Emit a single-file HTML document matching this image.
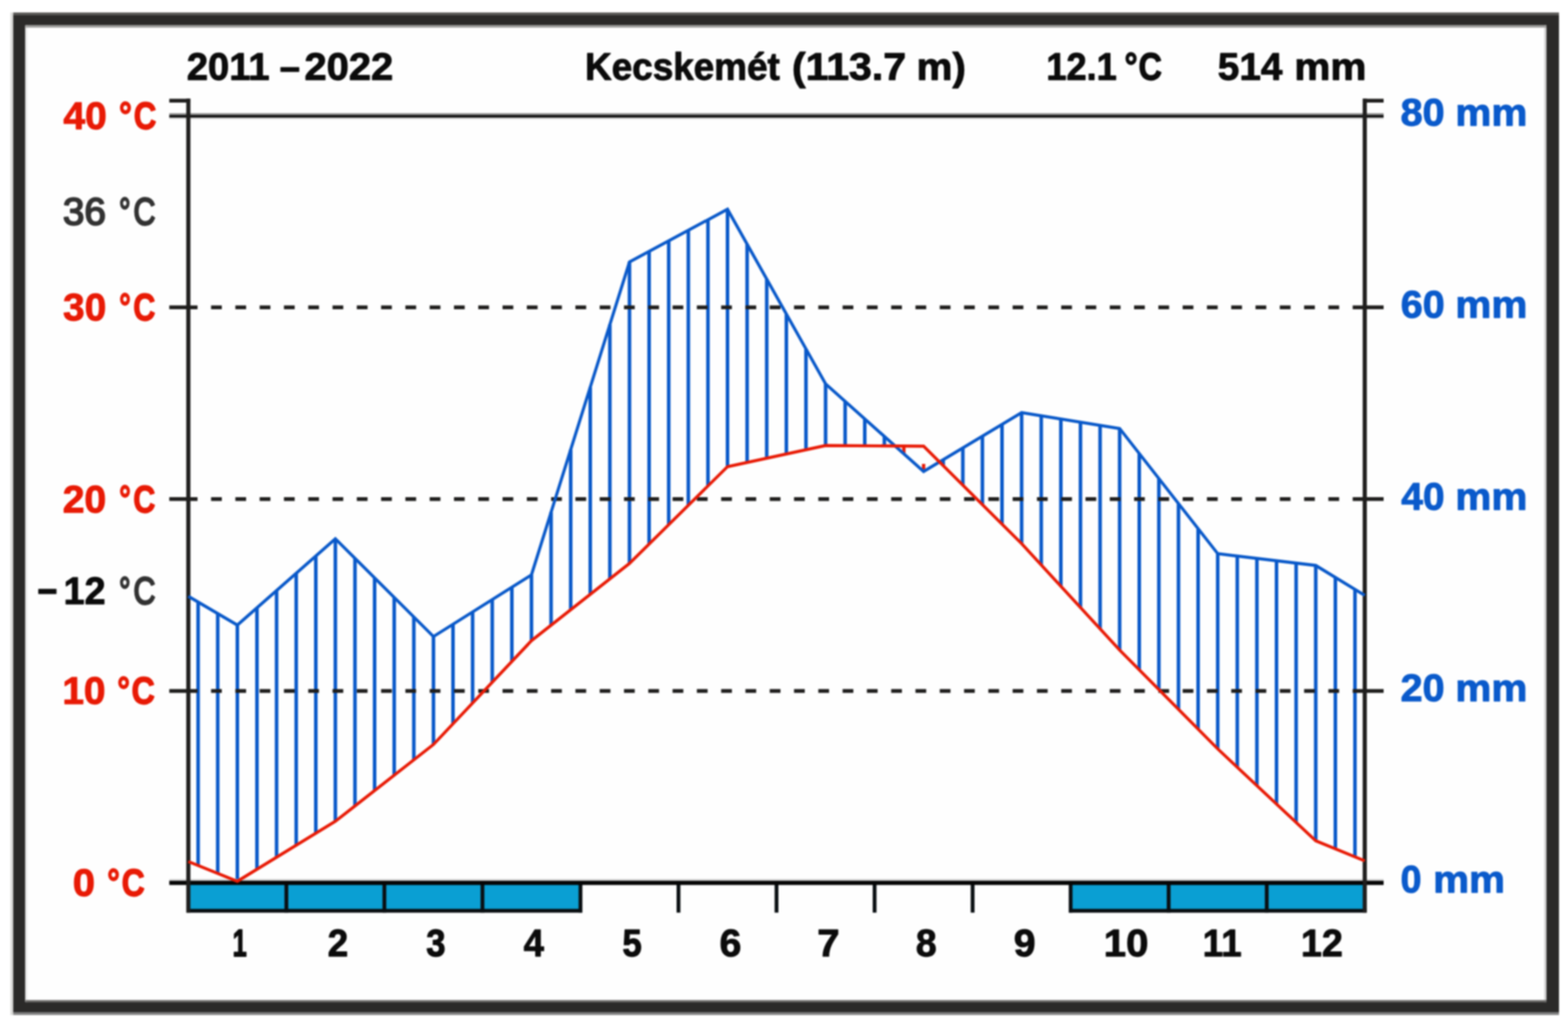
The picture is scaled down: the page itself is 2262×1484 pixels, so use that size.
<!DOCTYPE html>
<html lang="hu">
<head>
<meta charset="utf-8">
<title>Kecskemét (113.7 m) 2011–2022</title>
<style>
html,body{margin:0;padding:0;background:#fff;}
body{width:2262px;height:1484px;overflow:hidden;}
svg{display:block;filter:blur(0.8px);font-family:"Liberation Sans",Arial,sans-serif;font-weight:bold;}
text{white-space:pre;}
</style>
</head>
<body>
<svg width="2262" height="1484" viewBox="0 0 2262 1484">
<rect x="0" y="0" width="2262" height="1484" fill="#ffffff"/>
<g id="frame">
<rect x="15.1" y="18" width="4.2" height="1445.8" fill="#dbdbd9"/>
<rect x="19.1" y="18" width="2229.9" height="5" fill="#5a5957"/>
<rect x="19.1" y="1459" width="2229.9" height="4.8" fill="#828282"/>
<path fill-rule="evenodd" fill="#2b2a29" d="M19.1 22H2249V1459.8H19.1ZM36.7 36.7V1445.1H2231V36.7Z"/>
<rect x="36.7" y="36.7" width="2194.3" height="1408.4" fill="#fefefe"/>
<rect x="36.7" y="36.7" width="3.1" height="1408.4" fill="#efefef"/>
<rect x="2227.8" y="36.7" width="3.2" height="1408.4" fill="#cecece"/>
<rect x="36.7" y="36.7" width="2194.3" height="3.1" fill="#9b9b99"/>
<rect x="36.7" y="1442.2" width="2194.3" height="2.9" fill="#706f6d"/>
</g>
<g stroke="#0858c9" stroke-width="5.1" fill="none">
<line x1="285.8" y1="868.3" x2="285.8" y2="1248.2"/>
<line x1="314.1" y1="884.9" x2="314.1" y2="1259.6"/>
<line x1="342.4" y1="901.5" x2="342.4" y2="1271.0"/>
<line x1="370.7" y1="876.6" x2="370.7" y2="1253.7"/>
<line x1="399.0" y1="851.7" x2="399.0" y2="1236.4"/>
<line x1="427.3" y1="826.8" x2="427.3" y2="1219.1"/>
<line x1="455.6" y1="801.9" x2="455.6" y2="1201.8"/>
<line x1="483.8" y1="777.0" x2="483.8" y2="1184.5"/>
<line x1="512.1" y1="805.2" x2="512.1" y2="1162.3"/>
<line x1="540.4" y1="833.4" x2="540.4" y2="1140.2"/>
<line x1="568.7" y1="861.6" x2="568.7" y2="1118.0"/>
<line x1="597.0" y1="889.8" x2="597.0" y2="1095.9"/>
<line x1="625.3" y1="918.0" x2="625.3" y2="1073.7"/>
<line x1="653.5" y1="900.2" x2="653.5" y2="1043.8"/>
<line x1="681.8" y1="882.4" x2="681.8" y2="1013.8"/>
<line x1="710.1" y1="864.6" x2="710.1" y2="983.9"/>
<line x1="738.4" y1="846.8" x2="738.4" y2="953.9"/>
<line x1="766.7" y1="829.0" x2="766.7" y2="924.0"/>
<line x1="795.0" y1="738.8" x2="795.0" y2="901.7"/>
<line x1="823.3" y1="648.5" x2="823.3" y2="879.4"/>
<line x1="851.5" y1="558.3" x2="851.5" y2="857.1"/>
<line x1="879.8" y1="468.0" x2="879.8" y2="834.8"/>
<line x1="908.1" y1="377.8" x2="908.1" y2="812.5"/>
<line x1="936.4" y1="362.6" x2="936.4" y2="784.6"/>
<line x1="964.7" y1="347.4" x2="964.7" y2="756.7"/>
<line x1="993.0" y1="332.2" x2="993.0" y2="728.8"/>
<line x1="1021.3" y1="317.0" x2="1021.3" y2="700.9"/>
<line x1="1049.5" y1="301.8" x2="1049.5" y2="673.0"/>
<line x1="1077.8" y1="352.2" x2="1077.8" y2="666.9"/>
<line x1="1106.1" y1="402.5" x2="1106.1" y2="660.8"/>
<line x1="1134.4" y1="452.9" x2="1134.4" y2="654.7"/>
<line x1="1162.7" y1="503.2" x2="1162.7" y2="648.6"/>
<line x1="1191.0" y1="553.6" x2="1191.0" y2="642.5"/>
<line x1="1219.2" y1="578.9" x2="1219.2" y2="642.7"/>
<line x1="1247.5" y1="604.2" x2="1247.5" y2="642.9"/>
<line x1="1275.8" y1="629.4" x2="1275.8" y2="643.1"/>
<line x1="1360.7" y1="663.0" x2="1360.7" y2="671.6"/>
<line x1="1389.0" y1="646.0" x2="1389.0" y2="699.7"/>
<line x1="1417.2" y1="629.0" x2="1417.2" y2="727.8"/>
<line x1="1445.5" y1="612.0" x2="1445.5" y2="755.9"/>
<line x1="1473.8" y1="595.0" x2="1473.8" y2="784.0"/>
<line x1="1502.1" y1="599.6" x2="1502.1" y2="814.7"/>
<line x1="1530.4" y1="604.2" x2="1530.4" y2="845.4"/>
<line x1="1558.7" y1="608.8" x2="1558.7" y2="876.1"/>
<line x1="1587.0" y1="613.4" x2="1587.0" y2="906.8"/>
<line x1="1615.2" y1="618.0" x2="1615.2" y2="937.5"/>
<line x1="1643.5" y1="654.1" x2="1643.5" y2="966.0"/>
<line x1="1671.8" y1="690.2" x2="1671.8" y2="994.5"/>
<line x1="1700.1" y1="726.3" x2="1700.1" y2="1023.0"/>
<line x1="1728.4" y1="762.4" x2="1728.4" y2="1051.5"/>
<line x1="1756.7" y1="798.5" x2="1756.7" y2="1080.0"/>
<line x1="1784.9" y1="801.9" x2="1784.9" y2="1106.5"/>
<line x1="1813.2" y1="805.3" x2="1813.2" y2="1133.0"/>
<line x1="1841.5" y1="808.7" x2="1841.5" y2="1159.5"/>
<line x1="1869.8" y1="812.1" x2="1869.8" y2="1186.0"/>
<line x1="1898.1" y1="815.5" x2="1898.1" y2="1212.5"/>
<line x1="1926.4" y1="832.7" x2="1926.4" y2="1224.1"/>
<line x1="1954.7" y1="850.0" x2="1954.7" y2="1235.7"/>
</g>
<g stroke="#e81a05" stroke-width="4.8" fill="none">
<line x1="1303.9" y1="643" x2="1303.9" y2="654"/>
<line x1="1332.4" y1="669" x2="1332.4" y2="677"/>
</g>
<line x1="244.2" y1="443.2" x2="272" y2="443.2" stroke="#1f1e1d" stroke-width="5.5"/>
<line x1="269.46" y1="443.2" x2="1969" y2="443.2" stroke="#1f1e1d" stroke-width="5.5" stroke-dasharray="15.5 19.54"/>
<line x1="1966" y1="443.2" x2="1996" y2="443.2" stroke="#1f1e1d" stroke-width="5.5"/>
<line x1="244.2" y1="719.7" x2="272" y2="719.7" stroke="#1f1e1d" stroke-width="5.5"/>
<line x1="269.46" y1="719.7" x2="1969" y2="719.7" stroke="#1f1e1d" stroke-width="5.5" stroke-dasharray="15.5 19.54"/>
<line x1="1966" y1="719.7" x2="1996" y2="719.7" stroke="#1f1e1d" stroke-width="5.5"/>
<line x1="244.2" y1="996.5" x2="272" y2="996.5" stroke="#1f1e1d" stroke-width="5.5"/>
<line x1="269.46" y1="996.5" x2="1969" y2="996.5" stroke="#1f1e1d" stroke-width="5.5" stroke-dasharray="15.5 19.54"/>
<line x1="1966" y1="996.5" x2="1996" y2="996.5" stroke="#1f1e1d" stroke-width="5.5"/>
<rect x="244.2" y="163.3" width="1751.8" height="3" fill="#858585"/>
<rect x="244.2" y="169.3" width="1751.8" height="2.4" fill="#d2d2d2"/>
<rect x="244.2" y="166.1" width="1751.8" height="3.4" fill="#050505"/>
<line x1="244.2" y1="145.2" x2="274.2" y2="145.2" stroke="#1f1e1d" stroke-width="5.5"/>
<line x1="1966.3" y1="145.2" x2="1996" y2="145.2" stroke="#1f1e1d" stroke-width="5.5"/>
<rect x="271.7" y="1273.1" width="565.7" height="40.4" fill="#0a9fd3"/>
<rect x="1544.5" y="1273.1" width="424.3" height="40.4" fill="#0a9fd3"/>
<line x1="269.2" y1="1313.5" x2="839.9" y2="1313.5" stroke="#0a0f12" stroke-width="5.5"/>
<line x1="1542.0" y1="1313.5" x2="1971.3" y2="1313.5" stroke="#0a0f12" stroke-width="5.5"/>
<line x1="413.1" y1="1273.1" x2="413.1" y2="1316.2" stroke="#0a0f12" stroke-width="5.5"/>
<line x1="554.5" y1="1273.1" x2="554.5" y2="1316.2" stroke="#0a0f12" stroke-width="5.5"/>
<line x1="696.0" y1="1273.1" x2="696.0" y2="1316.2" stroke="#0a0f12" stroke-width="5.5"/>
<line x1="837.4" y1="1273.1" x2="837.4" y2="1316.2" stroke="#0a0f12" stroke-width="5.5"/>
<line x1="978.8" y1="1273.1" x2="978.8" y2="1316.2" stroke="#0a0f12" stroke-width="5.5"/>
<line x1="1120.2" y1="1273.1" x2="1120.2" y2="1316.2" stroke="#0a0f12" stroke-width="5.5"/>
<line x1="1261.7" y1="1273.1" x2="1261.7" y2="1316.2" stroke="#0a0f12" stroke-width="5.5"/>
<line x1="1403.1" y1="1273.1" x2="1403.1" y2="1316.2" stroke="#0a0f12" stroke-width="5.5"/>
<line x1="1544.5" y1="1273.1" x2="1544.5" y2="1316.2" stroke="#0a0f12" stroke-width="5.5"/>
<line x1="1685.9" y1="1273.1" x2="1685.9" y2="1316.2" stroke="#0a0f12" stroke-width="5.5"/>
<line x1="1827.4" y1="1273.1" x2="1827.4" y2="1316.2" stroke="#0a0f12" stroke-width="5.5"/>
<rect x="244.2" y="1267.6" width="1751.8" height="2.8" fill="#d8d8d8"/>
<rect x="244.2" y="1270.2" width="1751.8" height="6.1" fill="#050505"/>
<line x1="271.7" y1="142.3" x2="271.7" y2="1316.2" stroke="#1f1e1d" stroke-width="6"/>
<line x1="1968.8" y1="142.3" x2="1968.8" y2="1316.2" stroke="#1f1e1d" stroke-width="6"/>
<polyline points="271.7,860.0 342.4,901.5 483.8,777.0 625.3,918.0 766.7,829.0 908.1,377.8 1049.5,301.8 1191.0,553.6 1332.4,680.0 1473.8,595.0 1615.2,618.0 1756.7,798.5 1898.1,815.5 1968.8,858.6" fill="none" stroke="#0858c9" stroke-width="4.4" stroke-linejoin="miter"/>
<polyline points="271.7,1242.5 342.4,1271.0 483.8,1184.5 625.3,1073.7 766.7,924.0 908.1,812.5 1049.5,673.0 1191.0,642.5 1332.4,643.5 1473.8,784.0 1615.2,937.5 1756.7,1080.0 1898.1,1212.5 1968.8,1241.5" fill="none" stroke="#e81a05" stroke-width="4.4" stroke-linejoin="miter"/>
<text id="years" y="114.5" font-size="54.6" font-weight="bold" fill="#0b0b0b" stroke="#0b0b0b" stroke-width="1.3" stroke-linejoin="round"><tspan x="269.47" textLength="119.45" lengthAdjust="spacingAndGlyphs">2011</tspan><tspan x="403.52" textLength="29.21" lengthAdjust="spacingAndGlyphs">–</tspan><tspan x="439.39" textLength="127.94" lengthAdjust="spacingAndGlyphs">2022</tspan></text>
<text id="title" y="114.5" font-size="54.6" font-weight="bold" fill="#0b0b0b" stroke="#0b0b0b" stroke-width="1.3" stroke-linejoin="round"><tspan x="844.11" textLength="280.83" lengthAdjust="spacingAndGlyphs">Kecskemét</tspan> <tspan x="1142.64" textLength="164.5" lengthAdjust="spacingAndGlyphs">(113.7</tspan> <tspan x="1322.22" textLength="71.07" lengthAdjust="spacingAndGlyphs">m)</tspan></text>
<text id="temp" y="114.5" font-size="54.6" font-weight="bold" fill="#0b0b0b" stroke="#0b0b0b" stroke-width="1.3" stroke-linejoin="round"><tspan x="1509.44" textLength="101.67" lengthAdjust="spacingAndGlyphs">12.1</tspan><tspan x="1622.28" textLength="18.81" lengthAdjust="spacingAndGlyphs" stroke-width="1.75">°</tspan><tspan x="1642.54" textLength="33.63" lengthAdjust="spacingAndGlyphs" stroke-width="1.79">C</tspan></text>
<text id="prec" y="114.5" font-size="54.6" font-weight="bold" fill="#0b0b0b" stroke="#0b0b0b" stroke-width="1.3" stroke-linejoin="round"><tspan x="1756.89" textLength="93.05" lengthAdjust="spacingAndGlyphs">514</tspan> <tspan x="1867.3" textLength="103.85" lengthAdjust="spacingAndGlyphs">mm</tspan></text>
<text id="l40" y="185.5" font-size="54.6" font-weight="bold" fill="#e81a05" stroke="#e81a05" stroke-width="1.3" stroke-linejoin="round"><tspan x="91.56" textLength="62.63" lengthAdjust="spacingAndGlyphs">40</tspan> <tspan x="171.63" textLength="18.43" lengthAdjust="spacingAndGlyphs" stroke-width="1.80">°</tspan><tspan x="192.9" textLength="32.53" lengthAdjust="spacingAndGlyphs" stroke-width="1.80">C</tspan></text>
<text id="l36" y="323.6" font-size="54.6" font-weight="normal" fill="#323232" stroke="#323232" stroke-width="2.4" stroke-linejoin="round"><tspan x="90.81" textLength="62.1" lengthAdjust="spacingAndGlyphs">36</tspan> <tspan x="171.81" textLength="16.57" lengthAdjust="spacingAndGlyphs" stroke-width="2.90">°</tspan><tspan x="192.39" textLength="31.86" lengthAdjust="spacingAndGlyphs" stroke-width="2.90">C</tspan></text>
<text id="l30" y="462.3" font-size="54.6" font-weight="bold" fill="#e81a05" stroke="#e81a05" stroke-width="1.3" stroke-linejoin="round"><tspan x="91.14" textLength="62.12" lengthAdjust="spacingAndGlyphs">30</tspan> <tspan x="171.93" textLength="16.64" lengthAdjust="spacingAndGlyphs" stroke-width="1.80">°</tspan><tspan x="192.34" textLength="31.86" lengthAdjust="spacingAndGlyphs" stroke-width="1.80">C</tspan></text>
<text id="l20" y="738.8" font-size="54.6" font-weight="bold" fill="#e81a05" stroke="#e81a05" stroke-width="1.3" stroke-linejoin="round"><tspan x="90.42" textLength="62.87" lengthAdjust="spacingAndGlyphs">20</tspan> <tspan x="171.93" textLength="16.64" lengthAdjust="spacingAndGlyphs" stroke-width="1.80">°</tspan><tspan x="192.34" textLength="31.86" lengthAdjust="spacingAndGlyphs" stroke-width="1.80">C</tspan></text>
<text id="lm12" y="870.8" font-size="54.6" font-weight="bold" fill="#0b0b0b" stroke="#0b0b0b" stroke-width="1.3" stroke-linejoin="round"><tspan x="54.08" textLength="29.08" lengthAdjust="spacingAndGlyphs" stroke-width="1.56">−</tspan><tspan x="91.7" textLength="60.5" lengthAdjust="spacingAndGlyphs">12</tspan> <tspan x="171.81" textLength="16.57" lengthAdjust="spacingAndGlyphs" font-weight="normal" fill="#323232" stroke="#323232" stroke-width="2.90">°</tspan><tspan x="192.39" textLength="31.86" lengthAdjust="spacingAndGlyphs" font-weight="normal" fill="#323232" stroke="#323232" stroke-width="2.90">C</tspan></text>
<text id="l10" y="1014.5" font-size="54.6" font-weight="bold" fill="#e81a05" stroke="#e81a05" stroke-width="1.3" stroke-linejoin="round"><tspan x="89.9" textLength="62.38" lengthAdjust="spacingAndGlyphs">10</tspan> <tspan x="169.36" textLength="18.17" lengthAdjust="spacingAndGlyphs" stroke-width="1.80">°</tspan><tspan x="189.84" textLength="33.63" lengthAdjust="spacingAndGlyphs" stroke-width="1.79">C</tspan></text>
<text id="l0" y="1291.5" font-size="54.6" font-weight="bold" fill="#e81a05" stroke="#e81a05" stroke-width="1.3" stroke-linejoin="round"><tspan x="105.09" textLength="32.08" lengthAdjust="spacingAndGlyphs">0</tspan> <tspan x="154.87" textLength="18.04" lengthAdjust="spacingAndGlyphs" stroke-width="1.80">°</tspan><tspan x="175.56" textLength="33.3" lengthAdjust="spacingAndGlyphs" stroke-width="1.80">C</tspan></text>
<text id="r80" y="181.0" font-size="54.6" font-weight="bold" fill="#0a5acb" stroke="#0a5acb" stroke-width="1.3" stroke-linejoin="round"><tspan x="2020.55" textLength="63.47" lengthAdjust="spacingAndGlyphs">80</tspan> <tspan x="2099.61" textLength="103.74" lengthAdjust="spacingAndGlyphs">mm</tspan></text>
<text id="r60" y="457.7" font-size="54.6" font-weight="bold" fill="#0a5acb" stroke="#0a5acb" stroke-width="1.3" stroke-linejoin="round"><tspan x="2020.77" textLength="63.24" lengthAdjust="spacingAndGlyphs">60</tspan> <tspan x="2099.61" textLength="103.74" lengthAdjust="spacingAndGlyphs">mm</tspan></text>
<text id="r40" y="734.6" font-size="54.6" font-weight="bold" fill="#0a5acb" stroke="#0a5acb" stroke-width="1.3" stroke-linejoin="round"><tspan x="2021.56" textLength="62.42" lengthAdjust="spacingAndGlyphs">40</tspan> <tspan x="2099.61" textLength="103.74" lengthAdjust="spacingAndGlyphs">mm</tspan></text>
<text id="r20" y="1010.8" font-size="54.6" font-weight="bold" fill="#0a5acb" stroke="#0a5acb" stroke-width="1.3" stroke-linejoin="round"><tspan x="2020.6" textLength="63.41" lengthAdjust="spacingAndGlyphs">20</tspan> <tspan x="2099.61" textLength="103.74" lengthAdjust="spacingAndGlyphs">mm</tspan></text>
<text id="r0" y="1286.8" font-size="54.6" font-weight="bold" fill="#0a5acb" stroke="#0a5acb" stroke-width="1.3" stroke-linejoin="round"><tspan x="2020.43" textLength="30.21" lengthAdjust="spacingAndGlyphs">0</tspan> <tspan x="2067.42" textLength="103.53" lengthAdjust="spacingAndGlyphs">mm</tspan></text>
<text id="mo1" y="1378.7" font-size="54.6" font-weight="bold" fill="#0b0b0b" stroke="#0b0b0b" stroke-width="1.3" stroke-linejoin="round"><tspan x="335.59" textLength="20.57" lengthAdjust="spacingAndGlyphs" stroke-width="1.80">1</tspan></text>
<text id="mo2" y="1378.7" font-size="54.6" font-weight="bold" fill="#0b0b0b" stroke="#0b0b0b" stroke-width="1.3" stroke-linejoin="round"><tspan x="472.74" textLength="29.55" lengthAdjust="spacingAndGlyphs">2</tspan></text>
<text id="mo3" y="1378.7" font-size="54.6" font-weight="bold" fill="#0b0b0b" stroke="#0b0b0b" stroke-width="1.3" stroke-linejoin="round"><tspan x="614.98" textLength="27.72" lengthAdjust="spacingAndGlyphs" stroke-width="1.56">3</tspan></text>
<text id="mo4" y="1378.7" font-size="54.6" font-weight="bold" fill="#0b0b0b" stroke="#0b0b0b" stroke-width="1.3" stroke-linejoin="round"><tspan x="755.61" textLength="29.21" lengthAdjust="spacingAndGlyphs">4</tspan></text>
<text id="mo5" y="1378.7" font-size="54.6" font-weight="bold" fill="#0b0b0b" stroke="#0b0b0b" stroke-width="1.3" stroke-linejoin="round"><tspan x="898.08" textLength="27.75" lengthAdjust="spacingAndGlyphs" stroke-width="1.56">5</tspan></text>
<text id="mo6" y="1378.7" font-size="54.6" font-weight="bold" fill="#0b0b0b" stroke="#0b0b0b" stroke-width="1.3" stroke-linejoin="round"><tspan x="1037.98" textLength="31.47" lengthAdjust="spacingAndGlyphs">6</tspan></text>
<text id="mo7" y="1378.7" font-size="54.6" font-weight="bold" fill="#0b0b0b" stroke="#0b0b0b" stroke-width="1.3" stroke-linejoin="round"><tspan x="1179.14" textLength="32.19" lengthAdjust="spacingAndGlyphs">7</tspan></text>
<text id="mo8" y="1378.7" font-size="54.6" font-weight="bold" fill="#0b0b0b" stroke="#0b0b0b" stroke-width="1.3" stroke-linejoin="round"><tspan x="1321.35" textLength="29.93" lengthAdjust="spacingAndGlyphs">8</tspan></text>
<text id="mo9" y="1378.7" font-size="54.6" font-weight="bold" fill="#0b0b0b" stroke="#0b0b0b" stroke-width="1.3" stroke-linejoin="round"><tspan x="1462.42" textLength="31.42" lengthAdjust="spacingAndGlyphs">9</tspan></text>
<text id="mo10" y="1378.7" font-size="54.6" font-weight="bold" fill="#0b0b0b" stroke="#0b0b0b" stroke-width="1.3" stroke-linejoin="round"><tspan x="1592.38" textLength="64.48" lengthAdjust="spacingAndGlyphs">10</tspan></text>
<text id="mo11" y="1378.7" font-size="54.6" font-weight="bold" fill="#0b0b0b" stroke="#0b0b0b" stroke-width="1.3" stroke-linejoin="round"><tspan x="1735.08" textLength="56.09" lengthAdjust="spacingAndGlyphs">11</tspan></text>
<text id="mo12" y="1378.7" font-size="54.6" font-weight="bold" fill="#0b0b0b" stroke="#0b0b0b" stroke-width="1.3" stroke-linejoin="round"><tspan x="1876.71" textLength="60.39" lengthAdjust="spacingAndGlyphs">12</tspan></text>
</svg>
</body>
</html>
